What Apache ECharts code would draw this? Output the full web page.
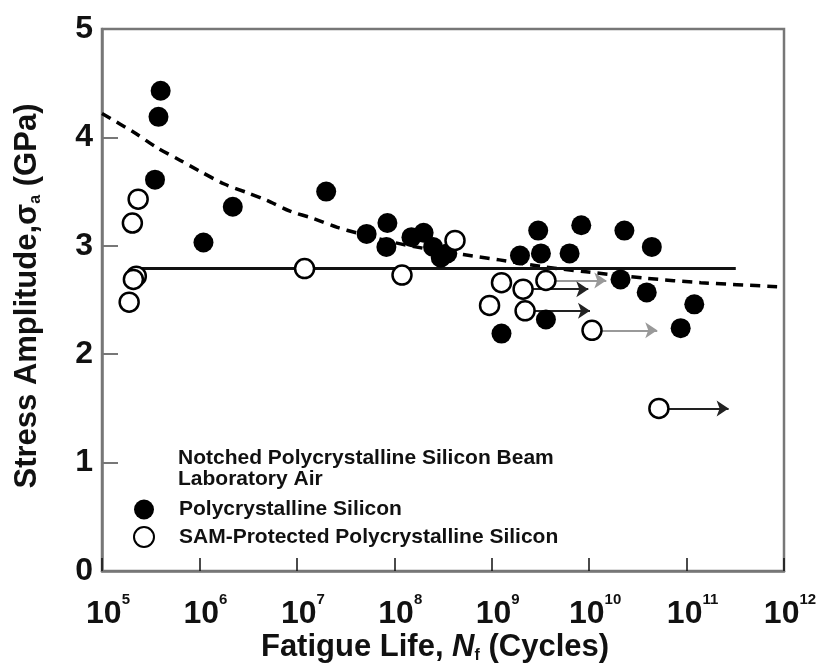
<!DOCTYPE html>
<html><head><meta charset="utf-8">
<script src="https://cdn.jsdelivr.net/npm/echarts@6/dist/echarts.min.js"></script>
<style>html,body{margin:0;padding:0;background:#fff}#c{width:820px;height:666px}</style>
</head><body><div id="c"></div>
<script>
// Polycrystalline Silicon (filled)
const polyN = [4.0e5, 3.8e5, 3.5e5, 2.2e6, 1.1e6, 2.0e7, 5.2e7, 8.5e7, 8.3e7, 1.5e8, 2.0e8, 2.5e8, 3.0e8, 3.5e8,
  3.0e9, 1.95e9, 3.2e9, 6.3e9, 8.3e9, 2.3e10, 4.4e10, 2.1e10, 3.9e10, 1.2e11, 8.7e10, 3.6e9, 1.26e9];
const polyS = [4.43, 4.19, 3.61, 3.36, 3.03, 3.50, 3.11, 3.21, 2.99, 3.08, 3.12, 2.99, 2.89, 2.93,
  3.14, 2.91, 2.93, 2.93, 3.19, 3.14, 2.99, 2.69, 2.57, 2.46, 2.24, 2.32, 2.19];
// SAM-Protected Polycrystalline Silicon (open)
const samN = [2.35e5, 2.05e5, 2.25e5, 2.1e5, 1.9e5, 1.2e7, 1.2e8, 4.2e8, 1.26e9, 2.1e9, 3.6e9, 9.5e8, 2.2e9, 1.07e10, 5.2e10];
const samS = [3.43, 3.21, 2.72, 2.69, 2.48, 2.79, 2.73, 3.05, 2.66, 2.60, 2.68, 2.45, 2.40, 2.22, 1.50];
// Run-out arrows
const runStartN = [3.6e9, 2.1e9, 2.2e9, 1.07e10, 5.2e10];
const runEndN   = [1.5e10, 9.8e9, 1.02e10, 5.0e10, 2.7e11];
const runS      = [2.68, 2.60, 2.40, 2.22, 1.50];
const runColor  = ['#999', '#222', '#222', '#999', '#222'];
// Dashed fit curve
const curveN = [1.0e5, 2.1e5, 3.6e5, 6.3e5, 1.0e6, 1.8e6, 3.1e6, 4.9e6, 8.5e6, 1.5e7, 2.6e7, 4.1e7, 1.0e8, 2.2e8, 5.1e8,
  1.2e9, 3.2e9, 9.3e9, 3.9e10, 1.4e11, 1.0e12];
const curveS = [4.22, 4.05, 3.91, 3.79, 3.69, 3.57, 3.49, 3.42, 3.32, 3.25, 3.17, 3.12, 3.03, 2.97, 2.92,
  2.87, 2.81, 2.76, 2.70, 2.66, 2.62];
// Solid limit line
const limitN = [2.1e5, 3.2e11];
const limitS = [2.79, 2.79];

const FONT = 'Liberation Sans, Arial, sans-serif';
const chart = echarts.init(document.getElementById('c'), null, {renderer: 'canvas'});
chart.setOption({
  animation: false,
  backgroundColor: '#fff',
  title: {
    text: 'Notched Polycrystalline Silicon Beam\nLaboratory Air',
    left: 173, top: 443,
    textStyle: {fontFamily: FONT, fontWeight: 'bold', fontSize: 21, lineHeight: 21, color: '#111'}
  },
  legend: {
    orient: 'vertical', left: 128, top: 494, itemWidth: 60, itemHeight: 20, itemGap: 6,
    textStyle: {fontFamily: FONT, fontWeight: 'bold', fontSize: 21, lineHeight: 20, color: '#111'},
    data: ['Polycrystalline Silicon', 'SAM-Protected Polycrystalline Silicon']
  },
  grid: {left: 102, right: 36, top: 29, bottom: 95, show: true, borderColor: '#777', borderWidth: 2.5,
    backgroundColor: 'transparent', containLabel: false, outerBoundsMode: 'none'},
  xAxis: {
    type: 'log', logBase: 10, min: 1e5, max: 1e12, splitNumber: 7,
    axisLine: {lineStyle: {color: '#777', width: 2.5}},
    axisTick: {inside: true, length: 13, lineStyle: {color: '#111', width: 1.5}},
    splitLine: {show: false}, minorTick: {show: false},
    axisLabel: {
      margin: 25, padding: [0, 0, 0, 12],
      formatter: v => '{b|10}{s|' + Math.round(Math.log10(v)) + '}',
      rich: {
        b: {fontFamily: FONT, fontWeight: 'bold', fontSize: 32, lineHeight: 36, color: '#111'},
        s: {fontFamily: FONT, fontWeight: 'bold', fontSize: 15, lineHeight: 15, padding: [0, 0, 28, 0], color: '#111'}
      }
    },
    name: '{t|Fatigue Life, }{i|N}{u|f}{t| (Cycles)}',
    nameLocation: 'middle', nameGap: 59, nameMoveOverlap: false,
    nameTextStyle: {
      padding: [0, 16, 0, 0],
      rich: {
        t: {fontFamily: FONT, fontWeight: 'bold', fontSize: 31, lineHeight: 34, color: '#111'},
        i: {fontFamily: FONT, fontWeight: 'bold', fontStyle: 'italic', fontSize: 31, lineHeight: 34, color: '#111'},
        u: {fontFamily: FONT, fontWeight: 'bold', fontSize: 16, lineHeight: 18, verticalAlign: 'bottom', color: '#111'}
      }
    }
  },
  yAxis: {
    type: 'value', min: 0, max: 5, interval: 1,
    axisLine: {lineStyle: {color: '#777', width: 2.5}},
    axisTick: {inside: true, length: 16, lineStyle: {color: '#777', width: 2}},
    splitLine: {show: false},
    axisLabel: {margin: 9, fontFamily: FONT, fontWeight: 'bold', fontSize: 32, color: '#111'},
    name: '{t|Stress Amplitude,}{t|σ}{u|a}{t| (GPa)}',
    nameLocation: 'middle', nameRotate: 90, nameGap: 58, nameMoveOverlap: false,
    nameTextStyle: {
      padding: [0, 0, 0, 8],
      rich: {
        t: {fontFamily: FONT, fontWeight: 'bold', fontSize: 31, lineHeight: 34, color: '#111'},
        u: {fontFamily: FONT, fontWeight: 'bold', fontSize: 16, lineHeight: 16, verticalAlign: 'bottom', color: '#111'}
      }
    }
  },
  series: [
    {
      type: 'line', silent: true, showSymbol: false, smooth: 0.3, z: 2,
      data: curveN.map((n, i) => [n, curveS[i]]),
      lineStyle: {color: '#000', width: 3.5, type: [10, 7]}
    },
    {
      type: 'line', silent: true, showSymbol: false, z: 2,
      data: limitN.map((n, i) => [n, limitS[i]]),
      lineStyle: {color: '#111', width: 3}
    },
    {
      type: 'lines', coordinateSystem: 'cartesian2d', silent: true, z: 3,
      symbol: ['none', 'arrow'], symbolSize: 12,
      lineStyle: {width: 2, opacity: 1},
      data: runStartN.map((n, i) => ({coords: [[n, runS[i]], [runEndN[i], runS[i]]], lineStyle: {color: runColor[i]}}))
    },
    {
      name: 'Polycrystalline Silicon', type: 'scatter', z: 4, symbol: 'circle', symbolSize: 20,
      itemStyle: {color: '#000', opacity: 1},
      data: polyN.map((n, i) => [n, polyS[i]])
    },
    {
      name: 'SAM-Protected Polycrystalline Silicon', type: 'scatter', z: 5, symbol: 'circle', symbolSize: 19,
      itemStyle: {color: '#fff', borderColor: '#000', borderWidth: 2.5, opacity: 1},
      data: samN.map((n, i) => [n, samS[i]])
    }
  ]
});
</script></body></html>
